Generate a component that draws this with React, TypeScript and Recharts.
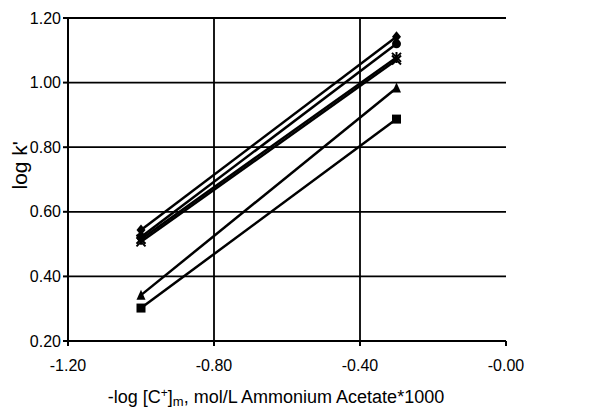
import { LineChart, Line, XAxis, YAxis, CartesianGrid, ReferenceLine } from "recharts";

// -log [C+]m values where k' was measured
const xValues = [-1.0, -0.3];

// log k' for each solute
const diamondSeries = [0.544, 1.142];
const circleSeries = [0.522, 1.12];
const starSeries = [0.515, 1.078];
const crossSeries = [0.507, 1.07];
const triangleSeries = [0.342, 0.983];
const squareSeries = [0.302, 0.887];

const xTicks = [-1.2, -0.8, -0.4, 0];
const xTickLabels = ["-1.20", "-0.80", "-0.40", "-0.00"];
const yTicks = [0.2, 0.4, 0.6, 0.8, 1.0, 1.2];

const data = xValues.map((x, i) => ({
  x,
  diamond: diamondSeries[i],
  circle: circleSeries[i],
  star: starSeries[i],
  cross: crossSeries[i],
  triangle: triangleSeries[i],
  square: squareSeries[i],
}));

type Shape = "diamond" | "circle" | "star" | "cross" | "triangle" | "square";

function Marker({ cx, cy, shape }: { cx?: number; cy?: number; shape: Shape }) {
  if (cx == null || cy == null) return null;
  const s = 4.5;
  switch (shape) {
    case "diamond":
      return <polygon points={`${cx},${cy - s - 1} ${cx + s},${cy} ${cx},${cy + s + 1} ${cx - s},${cy}`} fill="#000" />;
    case "circle":
      return <circle cx={cx} cy={cy} r={s} fill="#000" />;
    case "square":
      return <rect x={cx - s} y={cy - s} width={s * 2} height={s * 2} fill="#000" />;
    case "triangle":
      return <polygon points={`${cx},${cy - s - 1} ${cx + s},${cy + s} ${cx - s},${cy + s}`} fill="#000" />;
    case "cross":
      return (
        <path d={`M${cx - s},${cy - s}L${cx + s},${cy + s}M${cx + s},${cy - s}L${cx - s},${cy + s}`} stroke="#000" strokeWidth={2} />
      );
    case "star":
      return (
        <path
          d={`M${cx - s},${cy - s}L${cx + s},${cy + s}M${cx + s},${cy - s}L${cx - s},${cy + s}M${cx},${cy - s - 1}L${cx},${cy + s + 1}`}
          stroke="#000"
          strokeWidth={2}
        />
      );
  }
}

const seriesKeys: Shape[] = ["diamond", "circle", "star", "cross", "triangle", "square"];

// x-axis title with the superscript + and subscript m
function XTitle({ viewBox }: any) {
  const cx = viewBox.x + viewBox.width / 2 - 11;
  const y = viewBox.y + viewBox.height + 32;
  return (
    <text x={cx} y={y} textAnchor="middle" fill="#000" fontSize={18}>
      <tspan>-log [C</tspan>
      <tspan fontSize={12} dy={-6}>+</tspan>
      <tspan dy={6}>]</tspan>
      <tspan fontSize={13} dy={3}>m</tspan>
      <tspan dy={-3}>, mol/L Ammonium Acetate*1000</tspan>
    </text>
  );
}

export default function App() {
  return (
    <div style={{ width: 600, height: 400, fontFamily: "'Liberation Sans', Arial, sans-serif" }}>
      <LineChart width={600} height={400} data={data} margin={{ top: 10, right: 102, left: 10, bottom: 37 }}>
        <CartesianGrid vertical={false} stroke="#000" strokeWidth={1.8} strokeOpacity={1} />
        <ReferenceLine x={-0.8} stroke="#000" strokeWidth={1.8} />
        <ReferenceLine x={-0.4} stroke="#000" strokeWidth={1.8} />
        <XAxis
          dataKey="x"
          type="number"
          domain={[-1.2, 0]}
          ticks={xTicks}
          tickFormatter={(v: number) => xTickLabels[xTicks.indexOf(v)] ?? String(v)}
          stroke="#000"
          strokeWidth={2}
          tickSize={5}
          tick={{ fill: "#000", fontSize: 16 }}
          tickMargin={14}
          height={30}
          label={<XTitle />}
        />
        <YAxis
          type="number"
          domain={[0.2, 1.2]}
          ticks={yTicks}
          tickFormatter={(v: number) => v.toFixed(2)}
          stroke="#000"
          strokeWidth={2}
          tickSize={5}
          tick={{ fill: "#000", fontSize: 16 }}
          width={50}
          label={{ value: "log k'", angle: -90, position: "insideLeft", fill: "#000", fontSize: 21, dx: -3, dy: 10 }}
        />
        {seriesKeys.map((k) => (
          <Line
            key={k}
            dataKey={k}
            stroke="#000"
            strokeWidth={2.5}
            isAnimationActive={false}
            dot={(p: any) => <Marker key={`${k}-${p.index}`} cx={p.cx} cy={p.cy} shape={k} />}
            activeDot={false}
          />
        ))}
      </LineChart>
    </div>
  );
}
